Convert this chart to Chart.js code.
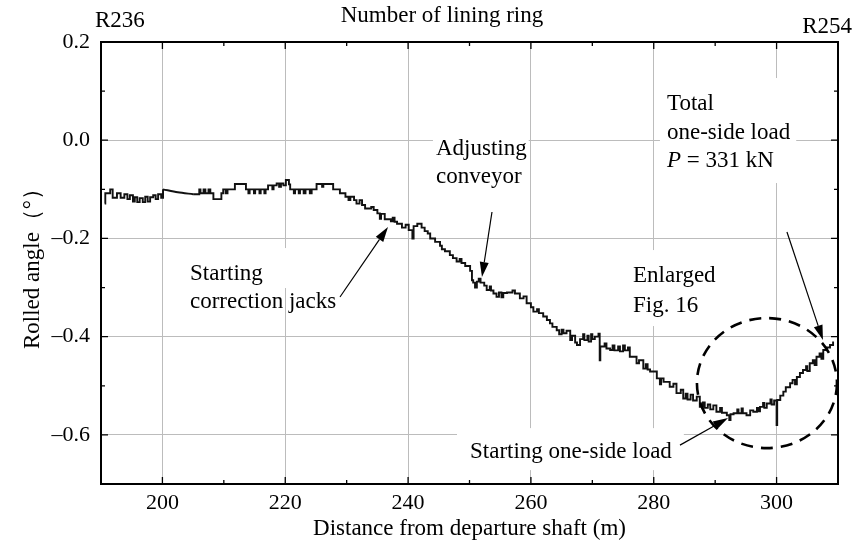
<!DOCTYPE html>
<html>
<head>
<meta charset="utf-8">
<script src="https://cdn.jsdelivr.net/npm/chart.js@4.4.1/dist/chart.umd.min.js"></script>
<style>
  html, body { margin: 0; padding: 0; background: #fff; }
  #wrap { width: 859px; height: 543px; }
</style>
</head>
<body>
<div id="wrap"><canvas id="c" width="859" height="543"></canvas></div>
<script>
// ---------------- data ----------------
const xMajorTicks = [200, 220, 240, 260, 280, 300];
const yMajorTicks = [-0.6, -0.4, -0.2, 0.0, 0.2];
const xMinorTicks = [190, 200, 210, 220, 230, 240, 250, 260, 270, 280, 290, 300, 310];
const yMinorTicks = [-0.7, -0.6, -0.5, -0.4, -0.3, -0.2, -0.1, 0.0, 0.1, 0.2];

// distance from departure shaft (m) where each rolled-angle value starts
const distance = [
  190.6, 190.7, 191.5, 191.9, 192.6, 193.2, 193.8, 194.3, 194.7, 195.2,
  195.5, 195.9, 196.3, 196.8, 197.2, 197.6, 198.0, 198.5, 198.9, 199.3,
  199.8, 200.1, 202.5,
  205.0, 206.0, 206.2, 206.7, 207.0, 207.5, 207.8, 208.3, 209.6, 209.9,
  210.3, 210.6, 211.8, 213.6, 214.0, 214.2, 214.9, 215.1, 215.8, 216.0,
  216.6, 216.8, 217.2, 217.9, 218.1, 218.6, 219.0, 219.3, 219.7, 220.1,
  220.6, 220.8, 221.4, 221.6, 222.2, 222.4, 223.0, 223.3, 224.0, 224.3,
  225.1, 226.0, 226.2, 227.8, 228.9, 229.8, 230.3, 230.6, 231.2, 231.6,
  232.1, 232.5, 233.0, 234.0, 234.4, 235.0, 235.4, 235.6, 236.2, 237.2,
  237.5, 237.8, 238.2, 239.0, 239.6, 240.1, 240.7, 240.9, 241.5, 242.2,
  242.7, 243.2, 243.6, 244.4, 245.2, 245.5, 246.0, 246.8, 247.3, 247.9,
  248.4, 248.7, 249.3, 250.1, 250.4, 250.6, 250.9, 251.2, 251.5, 251.8,
  252.4, 252.8, 253.3, 253.5, 253.9, 254.4, 254.8, 255.2, 255.5, 256.1,
  257.0, 257.4, 258.2, 258.8, 259.3, 260.0, 260.4, 261.0, 261.3, 262.0,
  262.6, 263.1, 263.5, 264.2, 264.6, 265.0, 265.3, 265.8, 266.4, 266.7,
  267.2, 267.5, 268.0, 268.5, 268.7, 269.2, 269.4, 269.8, 270.0, 270.4,
  271.0, 271.2, 271.3, 272.0, 272.3, 272.9, 273.3, 273.6, 274.2, 274.5,
  275.0, 275.3, 275.8, 276.1, 277.2, 277.6, 278.3, 278.7, 279.0, 279.4,
  280.5, 281.0, 281.2, 281.6, 282.6, 283.2, 283.7, 284.4, 284.8, 285.2,
  285.5, 286.0, 286.4, 287.0, 287.5, 288.0, 288.3, 288.8, 289.2, 289.7,
  290.2, 290.8, 291.1, 291.9, 292.3, 292.5, 293.0, 293.6, 293.8, 294.3,
  294.5, 295.1, 295.7, 296.2, 296.8, 297.0, 297.3, 297.8, 298.0, 298.4,
  299.0, 299.2, 299.6, 300.0, 300.1, 300.6, 301.1, 301.5, 302.2, 302.6,
  303.0, 303.3, 303.8, 304.3, 304.8, 305.0, 305.4, 305.9, 306.2, 306.5,
  307.0, 307.3, 307.6, 308.2, 308.7, 309.2
];
// rolled angle (deg); null = no record (straight link drawn separately)
const rolledAngle = [
  -0.129, -0.108, -0.100, -0.117, -0.108, -0.117, -0.110, -0.120, -0.112, -0.125,
  -0.116, -0.126, -0.118, -0.126, -0.115, -0.125, -0.116, -0.112, -0.120, -0.110,
  -0.117, -0.100, null,
  -0.110, -0.100, -0.108, -0.100, -0.108, -0.100, -0.108, -0.120, -0.108, -0.100,
  -0.108, -0.100, -0.089, -0.100, -0.108, -0.100, -0.108, -0.100, -0.108, -0.100,
  -0.108, -0.100, -0.092, -0.100, -0.092, -0.088, -0.095, -0.088, -0.092, -0.081,
  -0.090, -0.100, -0.108, -0.100, -0.108, -0.100, -0.108, -0.100, -0.108, -0.100,
  -0.089, -0.095, -0.089, -0.100, -0.108, -0.115, -0.122, -0.115, -0.122, -0.129,
  -0.122, -0.132, -0.139, -0.136, -0.142, -0.149, -0.160, -0.150, -0.161, -0.165,
  -0.158, -0.166, -0.170, -0.178, -0.172, -0.183, -0.200, -0.175, -0.170, -0.178,
  -0.185, -0.190, -0.200, -0.207, -0.215, -0.222, -0.226, -0.234, -0.240, -0.247,
  -0.242, -0.250, -0.256, -0.266, -0.285, -0.290, -0.300, -0.288, -0.282, -0.290,
  -0.296, -0.305, -0.298, -0.306, -0.312, -0.319, -0.310, -0.320, -0.311, -0.310,
  -0.306, -0.312, -0.322, -0.318, -0.332, -0.340, -0.349, -0.344, -0.352, -0.359,
  -0.366, -0.373, -0.380, -0.387, -0.395, -0.386, -0.393, -0.388, -0.407, -0.398,
  -0.412, -0.417, -0.405, -0.395, -0.407, -0.398, -0.410, -0.395, -0.405, -0.400,
  -0.394, -0.448, -0.420, -0.414, -0.424, -0.427, -0.418, -0.428, -0.420, -0.430,
  -0.418, -0.428, -0.422, -0.441, -0.454, -0.448, -0.465, -0.456, -0.467, -0.471,
  -0.485, -0.497, -0.485, -0.492, -0.502, -0.496, -0.515, -0.508, -0.526, -0.516,
  -0.528, -0.518, -0.530, -0.522, -0.543, -0.534, -0.545, -0.538, -0.548, -0.540,
  -0.553, -0.545, -0.555, -0.560, -0.570, -0.558, -0.556, -0.548, -0.556, -0.546,
  -0.556, -0.560, -0.550, -0.553, -0.545, -0.552, -0.543, -0.535, -0.545, -0.536,
  -0.528, -0.538, -0.530, -0.580, -0.529, -0.520, -0.512, -0.503, -0.495, -0.488,
  -0.497, -0.482, -0.474, -0.468, -0.460, -0.470, -0.454, -0.448, -0.458, -0.441,
  -0.434, -0.445, -0.427, -0.422, -0.417, -0.410
];
// smooth link across the unrecorded stretch
const linkDistance = [200.1, 202.5, 205.0];
const linkAngle = [-0.100, -0.106, -0.110];

// texts
const topTitle = 'Number of lining ring';
const ringStart = 'R236';
const ringEnd = 'R254';
const xTitle = 'Distance from departure shaft (m)';
const yTitle = 'Rolled angle\uFF08\u00B0\uFF09';

// ---------------- chart ----------------
const SERIF = '"Liberation Serif", "Times New Roman", serif';
const stepPoints = distance.map((x, i) => ({ x: x, y: rolledAngle[i] }));
const linkPoints = linkDistance.map((x, i) => ({ x: x, y: linkAngle[i] }));

function fmtY(v) {
  const s = Math.abs(v).toFixed(1);
  return (v < -1e-9 ? '\u2013' : '') + s;
}

// annotation blocks (anchor in data units)
const notes = [
  { x: 204.49, y: -0.2847, lines: ['Starting', 'correction jacks'], lh: 28, box: [4, 4, 32, -20], boxW: 'first' },
  { x: 244.54, y: -0.0301, lines: ['Adjusting', 'conveyor'], lh: 28, box: [3, 2, 32, 14] },
  { x: 282.15, y: 0.0615, lines: ['Total', 'one-side load', '@P'], lh: 28.5, box: [7, 6, 32, 16] },
  { x: 276.62, y: -0.2888, lines: ['Enlarged', 'Fig. 16'], lh: 30, box: [8, 8, 32, 14] },
  { x: 250.08, y: -0.6473, lines: ['Starting one-side load'], lh: 28, box: [13, 12, 30, 12] }
];
const arrows = [
  { from: [228.91, -0.3193], to: [236.73, -0.1768] },
  { from: [253.66, -0.1462], to: [252.03, -0.2786] },
  { from: [284.27, -0.6208], to: [292.09, -0.5658] },
  { from: [301.69, -0.1870], to: [307.55, -0.4069] }
];
const circle = { x: 298.43, y: -0.4945, rx: 11.4, ry: 0.1324 };

const FONT_TXT = '23px ' + SERIF;

const decor = {
  id: 'decor',
  beforeDatasetsDraw(chart) {
    const ctx = chart.ctx, xs = chart.scales.x, ys = chart.scales.y;
    ctx.save();
    ctx.font = FONT_TXT;
    ctx.fillStyle = '#fff';
    notes.forEach(n => {
      const px = xs.getPixelForValue(n.x), py = ys.getPixelForValue(n.y);
      let w = 0;
      n.lines.forEach((t, i) => {
        if (n.boxW === 'first' && i > 0) return;
        const s = t === '@P' ? 'P = 331 kN' : t;
        w = Math.max(w, ctx.measureText(s).width);
      });
      const lastBase = n.boxW === 'first' ? py : py + n.lh * (n.lines.length - 1);
      const top = py - n.box[2];
      const bottom = n.boxW === 'first' ? py + 8 : lastBase + n.box[3];
      if (n.boxW === 'first') {
        ctx.fillRect(px - n.box[0], top, w + n.box[0] + n.box[1] + 20, bottom - top);
      } else {
        ctx.fillRect(px - n.box[0], top, w + n.box[0] + n.box[1], bottom - top);
      }
    });
    ctx.restore();
  },
  afterDatasetsDraw(chart) {
    const ctx = chart.ctx, xs = chart.scales.x, ys = chart.scales.y;
    const a = chart.chartArea;
    ctx.save();
    // frame (top & right)
    ctx.strokeStyle = '#000';
    ctx.lineWidth = 2;
    ctx.beginPath();
    ctx.moveTo(a.left, a.top); ctx.lineTo(a.right, a.top); ctx.lineTo(a.right, a.bottom);
    ctx.stroke();
    // inward ticks
    ctx.lineWidth = 1.3;
    ctx.beginPath();
    xMinorTicks.forEach(v => {
      const p = xs.getPixelForValue(v);
      const len = xMajorTicks.includes(v) ? 7 : 4;
      ctx.moveTo(p, a.bottom); ctx.lineTo(p, a.bottom - len);
      ctx.moveTo(p, a.top); ctx.lineTo(p, a.top + len);
    });
    yMinorTicks.forEach(v => {
      const p = ys.getPixelForValue(v);
      const major = yMajorTicks.some(m => Math.abs(m - v) < 1e-6);
      const len = major ? 7 : 4;
      ctx.moveTo(a.left, p); ctx.lineTo(a.left + len, p);
      ctx.moveTo(a.right, p); ctx.lineTo(a.right - len, p);
    });
    ctx.stroke();

    // top texts
    ctx.fillStyle = '#000';
    ctx.font = FONT_TXT;
    ctx.textBaseline = 'alphabetic';
    ctx.textAlign = 'center';
    ctx.fillText(topTitle, 442, 22);
    ctx.textAlign = 'left';
    ctx.fillText(ringStart, 95, 27);
    ctx.textAlign = 'right';
    ctx.fillText(ringEnd, 852, 33);

    // annotations
    ctx.textAlign = 'left';
    notes.forEach(n => {
      const px = xs.getPixelForValue(n.x), py = ys.getPixelForValue(n.y);
      n.lines.forEach((t, i) => {
        const yy = py + i * n.lh;
        if (t === '@P') {
          ctx.font = 'italic 23px ' + SERIF;
          ctx.fillText('P', px, yy);
          const w = ctx.measureText('P').width;
          ctx.font = FONT_TXT;
          ctx.fillText(' = 331 kN', px + w, yy);
        } else {
          ctx.font = FONT_TXT;
          ctx.fillText(t, px, yy);
        }
      });
    });

    // arrows
    arrows.forEach(ar => {
      const x1 = xs.getPixelForValue(ar.from[0]), y1 = ys.getPixelForValue(ar.from[1]);
      const x2 = xs.getPixelForValue(ar.to[0]), y2 = ys.getPixelForValue(ar.to[1]);
      const ang = Math.atan2(y2 - y1, x2 - x1);
      const hl = 15, hw = 4.5;
      const bx = x2 - hl * Math.cos(ang), by = y2 - hl * Math.sin(ang);
      ctx.strokeStyle = '#000';
      ctx.lineWidth = 1.2;
      ctx.beginPath(); ctx.moveTo(x1, y1); ctx.lineTo(bx, by); ctx.stroke();
      ctx.beginPath();
      ctx.moveTo(x2, y2);
      ctx.lineTo(bx + hw * Math.sin(ang), by - hw * Math.cos(ang));
      ctx.lineTo(bx - hw * Math.sin(ang), by + hw * Math.cos(ang));
      ctx.closePath();
      ctx.fill();
    });

    // dashed ellipse
    const cx = xs.getPixelForValue(circle.x), cy = ys.getPixelForValue(circle.y);
    const rx = Math.abs(xs.getPixelForValue(circle.x + circle.rx) - cx);
    const ry = Math.abs(ys.getPixelForValue(circle.y + circle.ry) - cy);
    ctx.setLineDash([12, 8]);
    ctx.lineWidth = 2.6;
    ctx.beginPath();
    ctx.ellipse(cx, cy, rx, ry, 0, 0, Math.PI * 2);
    ctx.stroke();
    ctx.restore();
  }
};

new Chart(document.getElementById('c'), {
  type: 'line',
  data: {
    datasets: [
      { data: stepPoints, stepped: true, borderColor: '#111', borderWidth: 1.9,
        pointRadius: 0, spanGaps: false, fill: false },
      { data: linkPoints, borderColor: '#111', borderWidth: 1.9, tension: 0.3,
        pointRadius: 0, fill: false }
    ]
  },
  options: {
    responsive: false,
    animation: false,
    events: [],
    layout: { padding: { top: 42, right: 21, left: 0, bottom: 0 } },
    plugins: { legend: { display: false }, tooltip: { enabled: false }, title: { display: false } },
    scales: {
      x: {
        type: 'linear', position: 'bottom', min: 190, max: 310,
        afterBuildTicks: s => { s.ticks = xMajorTicks.map(v => ({ value: v })); },
        afterFit: s => { s.height = 59; },
        ticks: { color: '#000', font: { family: SERIF, size: 22 }, padding: 6, maxRotation: 0,
                 callback: v => String(v) },
        grid: { color: '#bcbcbc', lineWidth: 1, drawTicks: false },
        border: { display: true, color: '#000', width: 2 },
        title: { display: true, text: xTitle, color: '#000', font: { family: SERIF, size: 23 },
                 padding: { top: 0, bottom: 0 } }
      },
      y: {
        type: 'linear', position: 'left', min: -0.7, max: 0.2,
        afterBuildTicks: s => { s.ticks = yMajorTicks.map(v => ({ value: v })); },
        afterFit: s => { s.width = 101; },
        ticks: { color: '#000', font: { family: SERIF, size: 22 }, padding: 11, callback: v => fmtY(v) },
        grid: { color: '#bcbcbc', lineWidth: 1, drawTicks: false },
        border: { display: true, color: '#000', width: 2 },
        title: { display: true, text: yTitle, color: '#000', font: { family: SERIF, size: 23 },
                 padding: { top: 19, bottom: 0 } }
      }
    }
  },
  plugins: [decor]
});
</script>
</body>
</html>
